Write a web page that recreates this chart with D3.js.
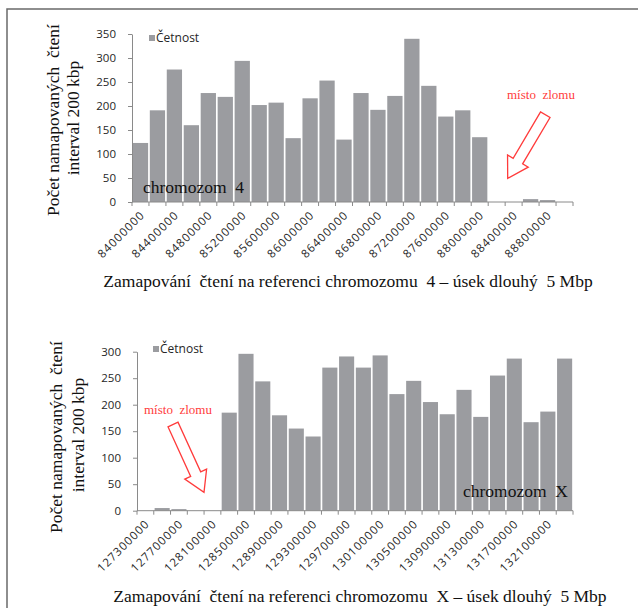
<!DOCTYPE html>
<html lang="cs">
<head>
<meta charset="UTF-8">
<script src="https://d3js.org/d3.v7.min.js"></script>
<style>
  body { margin: 0; background: #fff; }
  svg text { white-space: pre; }
  .tick text { font-family: "Open Sans", sans-serif; fill: #262626; }
</style>
</head>
<body>
<script>
// chromozom 4 - bins of 200 kbp
const chr4Bins = [84000000, 84200000, 84400000, 84600000, 84800000, 85000000, 85200000, 85400000, 85600000,
  85800000, 86000000, 86200000, 86400000, 86600000, 86800000, 87000000, 87200000, 87400000, 87600000,
  87800000, 88000000, 88200000, 88400000, 88600000, 88800000, 89000000];
const chr4Counts = [123, 191, 276, 160, 227, 219, 294, 202, 207, 133, 216, 253, 130, 227, 192, 221, 340, 242, 178,
  191, 135, 0, 0, 6, 4, 0];
const chr4TickLabels = ["84000000", "84400000", "84800000", "85200000", "85600000", "86000000", "86400000",
  "86800000", "87200000", "87600000", "88000000", "88400000", "88800000"];
const chr4YTicks = [0, 50, 100, 150, 200, 250, 300, 350];

// chromozom X
const chrXBins = [127300000, 127500000, 127700000, 127900000, 128100000, 128300000, 128500000, 128700000,
  128900000, 129100000, 129300000, 129500000, 129700000, 129900000, 130100000, 130300000, 130500000,
  130700000, 130900000, 131100000, 131300000, 131500000, 131700000, 131900000, 132100000, 132300000];
const chrXCounts = [0, 5, 3, 0, 0, 185, 296, 244, 180, 155, 140, 270, 291, 270, 293, 220, 245, 205, 182, 228,
  177, 255, 287, 167, 187, 287];
const chrXTickLabels = ["127300000", "127700000", "128100000", "128500000", "128900000", "129300000",
  "129700000", "130100000", "130500000", "130900000", "131300000", "131700000", "132100000"];
const chrXYTicks = [0, 50, 100, 150, 200, 250, 300];

const width = 638, height = 608;
const barColor = "#9b9ca0";
const axisColor = "#8a8a8a";
const red = "#ff3b3b";
const serif = "'Liberation Serif', 'Times New Roman', serif";

const svg = d3.select("body").append("svg")
  .attr("width", width)
  .attr("height", height);

// frame (top and left edge of the page box)
svg.append("path")
  .attr("d", "M7,608 L7,9 L638,9")
  .attr("fill", "none")
  .attr("stroke", "#6a6a6a")
  .attr("stroke-width", 1.5);

function arrow(tail, tip, w, hw, hl) {
  const dx = tip[0] - tail[0], dy = tip[1] - tail[1];
  const len = Math.hypot(dx, dy);
  const ux = dx / len, uy = dy / len, nx = -uy, ny = ux;
  const neck = [tip[0] - ux * hl, tip[1] - uy * hl];
  const pts = [
    [tail[0] + nx * w, tail[1] + ny * w],
    [neck[0] + nx * w, neck[1] + ny * w],
    [neck[0] + nx * hw, neck[1] + ny * hw],
    tip,
    [neck[0] - nx * hw, neck[1] - ny * hw],
    [neck[0] - nx * w, neck[1] - ny * w],
    [tail[0] - nx * w, tail[1] - ny * w]
  ];
  return "M" + pts.map(p => p.join(",")).join("L") + "Z";
}

function serifText(g, size) {
  return g.append("text")
    .style("font-family", serif)
    .style("fill", "#111")
    .attr("font-size", size);
}

function drawChart(cfg) {
  const g = svg.append("g");

  const x = d3.scaleBand()
    .domain(cfg.bins)
    .range([cfg.left, cfg.right])
    .paddingInner(0.1)
    .paddingOuter(0.05);

  const y = d3.scaleLinear()
    .domain([0, cfg.yMax])
    .range([cfg.bottom, cfg.top]);

  // bars
  g.append("g").selectAll("rect")
    .data(cfg.counts.map((c, i) => ({ bin: cfg.bins[i], count: c })))
    .join("rect")
    .attr("x", d => x(d.bin))
    .attr("width", x.bandwidth())
    .attr("y", d => y(d.count))
    .attr("height", d => cfg.bottom - y(d.count))
    .attr("fill", barColor);

  // y axis
  const yAxis = g.append("g")
    .attr("transform", `translate(${cfg.left},0)`)
    .call(d3.axisLeft(y).tickValues(cfg.yTicks).tickSize(4).tickPadding(12).tickSizeOuter(0));
  yAxis.select(".domain").attr("stroke", axisColor);
  yAxis.selectAll(".tick line").attr("stroke", axisColor);
  yAxis.selectAll(".tick text").attr("font-size", 11.5);

  // x axis line + boundary ticks
  g.append("line")
    .attr("x1", cfg.left).attr("x2", cfg.right)
    .attr("y1", cfg.bottom).attr("y2", cfg.bottom)
    .attr("stroke", axisColor);
  g.append("g").selectAll("line")
    .data(d3.range(cfg.bins.length + 1))
    .join("line")
    .attr("x1", i => cfg.left + i * (cfg.right - cfg.left) / cfg.bins.length)
    .attr("x2", i => cfg.left + i * (cfg.right - cfg.left) / cfg.bins.length)
    .attr("y1", cfg.bottom)
    .attr("y2", cfg.bottom + 4)
    .attr("stroke", axisColor);

  // x tick labels (every other bin)
  g.append("g").attr("class", "tick").selectAll("text")
    .data(cfg.tickLabels)
    .join("text")
    .attr("transform", d => `translate(${x(+d) + x.bandwidth() / 2 + 2},${cfg.bottom + 11}) rotate(-45)`)
    .attr("text-anchor", "end")
    .attr("dy", "0.35em")
    .attr("font-size", 11.5)
    .attr("letter-spacing", 1)
    .text(d => d);

  // legend
  g.append("rect")
    .attr("x", cfg.legendX).attr("y", cfg.legendY - 3)
    .attr("width", 6).attr("height", 6)
    .attr("fill", barColor);
  g.append("text")
    .attr("x", cfg.legendX + 7).attr("y", cfg.legendY)
    .attr("dy", "0.35em")
    .attr("font-size", 12)
    .style("font-family", "'Open Sans', sans-serif")
    .attr("fill", "#262626")
    .text("Četnost");

  // y axis title
  serifText(g, 17.5)
    .attr("transform", `translate(${cfg.yTitleX1},${cfg.yTitleY}) rotate(-90)`)
    .attr("text-anchor", "middle")
    .text("Počet namapovaných  čtení");
  serifText(g, 17.5)
    .attr("transform", `translate(${cfg.yTitleX2},${cfg.yTitleY - 2}) rotate(-90)`)
    .attr("text-anchor", "middle")
    .text("interval 200 kbp");

  // x axis title
  serifText(g, 17.5)
    .attr("x", cfg.xTitleX).attr("y", cfg.xTitleY)
    .attr("text-anchor", "middle")
    .text(cfg.xTitle);

  // chromosome name inside plot
  serifText(g, 17.5)
    .attr("x", cfg.nameX).attr("y", cfg.nameY)
    .text(cfg.name);

  // break point annotation
  serifText(g, 13)
    .attr("x", cfg.noteX).attr("y", cfg.noteY)
    .style("fill", red)
    .text("místo  zlomu");
  g.append("path")
    .attr("d", arrow(cfg.arrowTail, cfg.arrowTip, 5.5, 12, 20))
    .attr("fill", "#fff")
    .attr("stroke", red)
    .attr("stroke-width", 1.3)
    .attr("stroke-linejoin", "miter");
}

drawChart({
  bins: chr4Bins, counts: chr4Counts, tickLabels: chr4TickLabels, yTicks: chr4YTicks, yMax: 350,
  left: 132, right: 573, top: 34, bottom: 202,
  legendX: 149, legendY: 38,
  yTitleX1: 59, yTitleX2: 79, yTitleY: 120,
  xTitle: "Zamapování  čtení na referenci chromozomu  4 – úsek dlouhý  5 Mbp", xTitleX: 348, xTitleY: 287,
  name: "chromozom  4", nameX: 143, nameY: 193,
  noteX: 507, noteY: 99, arrowTail: [545.3, 114.7], arrowTip: [507.7, 178.3]
});

drawChart({
  bins: chrXBins, counts: chrXCounts, tickLabels: chrXTickLabels, yTicks: chrXYTicks, yMax: 300,
  left: 137, right: 573, top: 351.7, bottom: 510.7,
  legendX: 153, legendY: 349,
  yTitleX1: 62, yTitleX2: 84, yTitleY: 437,
  xTitle: "Zamapování  čtení na referenci chromozomu  X – úsek dlouhý  5 Mbp", xTitleX: 360, xTitleY: 602,
  name: "chromozom  X", nameX: 463, nameY: 497,
  noteX: 144, noteY: 414, arrowTail: [173, 424.5], arrowTip: [204, 492.3]
});
</script>
</body>
</html>
